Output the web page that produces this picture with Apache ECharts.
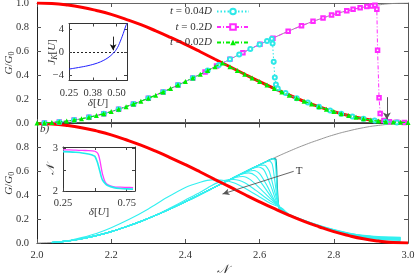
<!DOCTYPE html>
<html><head><meta charset="utf-8">
<script src="https://cdn.jsdelivr.net/npm/echarts@6/dist/echarts.min.js"></script>
<style>html,body{margin:0;padding:0;background:#fff}#c{width:415px;height:276px}</style>
</head><body><div id="c"></div>
<script>
// ---------- data ----------
const xTickLabels = ['2.0','2.2','2.4','2.6','2.8','3.0'];
const nGrid = [2.00,2.04,2.08,2.12,2.16,2.20,2.24,2.28,2.32,2.36,2.40,2.44,2.48,2.52,2.56,2.60,2.64,2.68,2.72,2.76,2.80,2.84,2.88,2.92,2.96,3.00];
const riseG = [0.000,0.004,0.016,0.035,0.062,0.095,0.136,0.181,0.232,0.287,0.345,0.406,0.469,0.531,0.594,0.655,0.713,0.768,0.819,0.864,0.905,0.938,0.965,0.984,0.996,1.000];
const fallG = [1.000,0.996,0.984,0.965,0.938,0.905,0.864,0.819,0.768,0.713,0.655,0.594,0.531,0.469,0.406,0.345,0.287,0.232,0.181,0.136,0.095,0.062,0.035,0.016,0.004,0.000];

// top panel series  (t = 0.2D)
const magPts = [[2.02,0.001],[2.06,0.009],[2.10,0.024],[2.14,0.048],[2.18,0.078],[2.22,0.115],[2.26,0.158],[2.30,0.206],[2.34,0.259],[2.38,0.316],[2.42,0.376],[2.453,0.426],[2.484,0.475],[2.520,0.531],[2.555,0.586],[2.601,0.656],[2.636,0.707],[2.677,0.764],[2.713,0.810],[2.744,0.847],[2.771,0.876],[2.794,0.899],[2.811,0.915],[2.835,0.935],[2.852,0.947],[2.871,0.960],[2.889,0.970],[2.902,0.976],[2.911,0.982],[2.916,0.947],[2.918,0.607],[2.922,0.21],[2.925,0.08],[2.935,0.02],[2.95,0.01],[2.97,0.006],[2.99,0.004]];
// t = 0.04D
const cyaPts = [[2.02,0.001],[2.06,0.009],[2.10,0.024],[2.14,0.048],[2.18,0.078],[2.22,0.115],[2.26,0.158],[2.30,0.206],[2.34,0.259],[2.38,0.316],[2.42,0.376],[2.46,0.437],[2.49,0.484],[2.52,0.531],[2.545,0.57],[2.575,0.616],[2.60,0.655],[2.62,0.684],[2.633,0.703],[2.635,0.663],[2.638,0.51],[2.641,0.38],[2.644,0.32],[2.649,0.287],[2.67,0.25],[2.70,0.206],[2.73,0.17],[2.76,0.136],[2.79,0.105],[2.82,0.078],[2.85,0.055],[2.88,0.035],[2.91,0.02],[2.94,0.01],[2.97,0.005]];
// t = 0.02D
const grnN = [2.00,2.02,2.04,2.06,2.08,2.10,2.12,2.14,2.16,2.18,2.20,2.22,2.24,2.26,2.28,2.30,2.32,2.34,2.36,2.38,2.40,2.42,2.44,2.46,2.48,2.50,2.52,2.54,2.56,2.58,2.60,2.62,2.64,2.66,2.68,2.70,2.72,2.74,2.76,2.78,2.80,2.82,2.84,2.86,2.88,2.90,2.92,2.94,2.96,2.98,3.00];
const grnG = [0,0.001,0.004,0.009,0.016,0.024,0.035,0.048,0.062,0.078,0.095,0.115,0.136,0.158,0.181,0.206,0.232,0.259,0.287,0.316,0.345,0.376,0.406,0.437,0.469,0.500,0.469,0.437,0.406,0.376,0.345,0.316,0.287,0.259,0.232,0.206,0.181,0.158,0.136,0.115,0.095,0.078,0.062,0.048,0.035,0.024,0.016,0.011,0.008,0.006,0.005];

// bottom panel
const bRise = [[2.04,0.004],[2.08,0.016],[2.12,0.035],[2.16,0.062],[2.20,0.095],[2.24,0.136],[2.28,0.181],[2.32,0.232],[2.36,0.287],[2.40,0.345],[2.44,0.406],[2.48,0.469],[2.52,0.531],[2.56,0.594],[2.60,0.655]];
const tailN = [2.68,2.72,2.76,2.80,2.84,2.88,2.92,2.96,2.98];
const tealPeel = [[2.62,0.684],[2.636,0.706],[2.644,0.70],[2.648,0.45],[2.654,0.28]];
const tealTail = [0.232,0.181,0.136,0.095,0.062,0.036,0.018,0.009,0.007];
const cyanRiseLen = [15,15,14,14,13,13,12,8,2];
const cyanPeel = [
  [[2.62,0.684],[2.636,0.706],[2.642,0.69],[2.646,0.5],[2.65,0.33],[2.656,0.272]],
  [[2.615,0.677],[2.626,0.686],[2.634,0.66],[2.641,0.52],[2.648,0.36],[2.656,0.275]],
  [[2.585,0.632],[2.602,0.652],[2.614,0.65],[2.626,0.6],[2.638,0.46],[2.65,0.33],[2.658,0.278]],
  [[2.58,0.623],[2.597,0.636],[2.612,0.61],[2.63,0.48],[2.645,0.35],[2.658,0.28]],
  [[2.55,0.578],[2.57,0.6],[2.585,0.607],[2.60,0.58],[2.62,0.48],[2.64,0.36],[2.66,0.282]],
  [[2.545,0.57],[2.57,0.587],[2.59,0.56],[2.61,0.48],[2.635,0.37],[2.66,0.284]],
  [[2.51,0.515],[2.535,0.548],[2.555,0.557],[2.575,0.53],[2.60,0.46],[2.63,0.37],[2.66,0.286]],
  [[2.36,0.295],[2.40,0.36],[2.44,0.425],[2.47,0.48],[2.50,0.52],[2.53,0.532],[2.56,0.505],[2.59,0.44],[2.625,0.36],[2.66,0.288]],
  [[2.12,0.045],[2.16,0.08],[2.20,0.128],[2.25,0.2],[2.30,0.285],[2.35,0.38],[2.40,0.465],[2.44,0.508],[2.47,0.528],[2.50,0.525],[2.53,0.505],[2.56,0.46],[2.60,0.385],[2.63,0.33],[2.66,0.29]]
];
const cyanTail = [
  [0.234,0.183,0.139,0.100,0.067,0.044,0.030,0.024,0.022],
  [0.234,0.184,0.140,0.101,0.069,0.046,0.033,0.027,0.026],
  [0.235,0.184,0.141,0.103,0.071,0.049,0.036,0.031,0.030],
  [0.235,0.185,0.142,0.104,0.073,0.051,0.039,0.034,0.033],
  [0.236,0.186,0.143,0.105,0.075,0.054,0.042,0.037,0.036],
  [0.236,0.187,0.144,0.107,0.077,0.056,0.045,0.040,0.039],
  [0.237,0.188,0.145,0.108,0.079,0.059,0.048,0.043,0.042],
  [0.237,0.189,0.146,0.110,0.081,0.061,0.051,0.046,0.045],
  [0.238,0.190,0.148,0.112,0.084,0.064,0.054,0.049,0.048]
];

// inset a: J_K vs delta
const jDelta = [0.25,0.30,0.35,0.40,0.43,0.45,0.47,0.49,0.50,0.51,0.52,0.53,0.54,0.55,0.555];
const jVal = [-3.0,-2.72,-2.4,-1.93,-1.5,-1.12,-0.62,0.05,0.5,1.1,1.9,2.75,3.7,4.7,5.0];
// inset b: N vs delta
const nDelta = [0.25,0.30,0.35,0.40,0.45,0.48,0.50,0.52,0.53,0.54,0.55,0.56,0.58,0.60,0.65,0.70,0.75,0.80];
const nMag = [2.97,2.97,2.965,2.96,2.955,2.95,2.94,2.90,2.84,2.72,2.55,2.40,2.22,2.15,2.10,2.09,2.085,2.08];
const nCya = [2.93,2.925,2.915,2.90,2.875,2.85,2.82,2.68,2.57,2.46,2.34,2.26,2.18,2.13,2.08,2.06,2.05,2.045];

// ---------- chart ----------
const SERIF = '"Liberation Serif","DejaVu Serif",serif';
const LBL = {color:'#333', fontFamily:SERIF, fontSize:10.5};
const RICH = {
  i:{fontStyle:'italic', fontFamily:SERIF, fontSize:11, color:'#333'},
  n:{fontFamily:SERIF, fontSize:11, color:'#333'},
  s:{fontFamily:SERIF, fontSize:8, color:'#333', padding:[5,0,0,0]},
  si:{fontFamily:SERIF, fontStyle:'italic', fontSize:8, color:'#333', padding:[5,0,0,0]}
};
const pairs = (xs, ys) => xs.map((x,i)=>[x, ys[i]]);

function mainX(grid, pos, showLabels, lineW, col){
  return {type:'value', gridIndex:grid, position:pos, min:2, max:3, interval:0.2, nameMoveOverlap:false,
    axisLine:{show:true, onZero:false, lineStyle:{color: col || (pos==='bottom' ? '#222' : '#666'), width:lineW||1}},
    axisTick:{show:true, inside:true, length:4, lineStyle:{color:'#555'}},
    axisLabel:{show:showLabels, ...LBL, margin:7, formatter:(v)=>xTickLabels[Math.round((v-2)/0.2)]},
    splitLine:{show:false}};
}
function mainY(grid, pos, showLabels, hideMax){
  return {type:'value', gridIndex:grid, position:pos, min:0, max:1, interval:0.2, nameMoveOverlap:false,
    axisLine:{show:true, onZero:false, lineStyle:{color: pos==='left' ? '#222' : '#555'}},
    axisTick:{show:true, inside:true, length:4, lineStyle:{color:'#555'}},
    axisLabel:{show:showLabels, ...LBL, margin:8, showMaxLabel: !hideMax, formatter:(v)=>v.toFixed(1)},
    splitLine:{show:false}};
}
function insetAxis(kind, grid, pos, min, max, ticks, labels, fmt){
  return {type:'value', gridIndex:grid, position:pos, min:min, max:max, z:5, nameMoveOverlap:false,
    axisLine:{show:true, onZero:false, lineStyle:{color:'#333'}},
    axisTick:{show:true, inside:true, length:3, customValues:ticks, lineStyle:{color:'#444'}},
    axisLabel:{show:!!labels, customValues:labels||[], ...LBL, margin:kind==='x'?7:5, formatter:fmt},
    splitLine:{show:false}};
}

const xAxes = [
  mainX(0,'bottom',false,1.6), mainX(0,'top',false),
  Object.assign(mainX(1,'bottom',true), {name:'𝒩', nameLocation:'middle', nameGap:21, nameTextStyle:{fontFamily:SERIF, fontStyle:'italic', fontSize:12, color:'#333'}}),
  mainX(1,'top',false,1,'#333'),
  Object.assign(insetAxis('x',2,'bottom',0.25,0.555,[0.25,0.375,0.5],[0.25,0.375,0.5],(v)=>v.toFixed(2)),
    {name:'{i|δ}{n|[}{i|U}{n|]}', nameLocation:'middle', nameGap:17, nameTextStyle:{rich:RICH}}),
  insetAxis('x',2,'top',0.25,0.555,[0.25,0.375,0.5]),
  Object.assign(insetAxis('x',3,'bottom',0.25,0.815,[0.25,0.5,0.75],[0.25,0.75],(v)=>v.toFixed(2)),
    {name:'{i|δ}{n|[}{i|U}{n|]}', nameLocation:'middle', nameGap:16, nameTextStyle:{rich:RICH}}),
  insetAxis('x',3,'top',0.25,0.815,[0.25,0.5,0.75])
];
const yName = {name:'{i|G}{n|/}{i|G}{s|0}', nameLocation:'middle', nameGap:21, nameTextStyle:{rich:RICH}};
const yAxes = [
  Object.assign(mainY(0,'left',true,false), yName), mainY(0,'right',false),
  Object.assign(mainY(1,'left',true,true), yName), mainY(1,'right',false),
  Object.assign(insetAxis('y',2,'left',-5,5,[-4,0,4],[-4,0,4],(v)=>v<0?'−'+(-v):String(v)),
    {name:'{i|J}{si|K}{n|[}{i|U}{n|]}', nameLocation:'middle', nameGap:10, nameTextStyle:{rich:RICH}}),
  insetAxis('y',2,'right',-5,5,[-4,0,4]),
  Object.assign(insetAxis('y',3,'left',2,3.04,[2,2.5,3],[2,3],(v)=>String(v)),
    {name:'𝒩', nameLocation:'middle', nameGap:6, nameTextStyle:{fontFamily:SERIF, fontStyle:'italic', fontSize:11, color:'#333'}}),
  insetAxis('y',3,'right',2,3.04,[2,2.5,3])
];

function line(ai, data, color, width, extra){
  return Object.assign({type:'line', xAxisIndex:ai, yAxisIndex:ai, data:data, symbol:'none',
    smooth:0.25, lineStyle:{color:color, width:width}, itemStyle:{color:color},
    silent:true, animation:false, z:2}, extra||{});
}

const series = [];
// top panel (axes 0)
series.push(line(0, pairs(nGrid, riseG), '#8a8a8a', 0.9, {smooth:0.5}));
series.push(line(0, pairs(nGrid, fallG), '#ff0000', 3, {smooth:0.5}));
series.push(line(0, cyaPts, '#2ee8e8', 1, {name:'t = 0.04D', smooth:false, symbol:'emptyCircle', symbolSize:4,
  lineStyle:{color:'#2ee8e8', width:1, type:[1.5,2]}, itemStyle:{color:'#2ee8e8', borderWidth:1}, z:4}));
series.push(line(0, magPts, '#ff2bff', 1, {name:'t = 0.2D', smooth:false, symbol:'emptyRect', symbolSize:3.5,
  lineStyle:{color:'#ff2bff', width:1, type:[4,2,1,2]}, itemStyle:{color:'#ff2bff', borderWidth:1}, z:3}));
series.push(line(0, pairs(grnN, grnG), '#00ee00', 1, {name:'t = 0.02D', smooth:false, symbol:'triangle', symbolSize:5,
  lineStyle:{color:'#00ee00', width:1.2, type:[4,2,1,2]}, itemStyle:{color:'#00ee00'}, z:5,
  markLine:{silent:true, symbol:['none','arrow'], symbolSize:[6,7], label:{show:false},
    lineStyle:{color:'#555', width:1, type:'solid'},
    data:[[{coord:[2.943,0.215]},{coord:[2.943,0.03]}]]}}));
// bottom panel (axes 2)
series.push(line(2, pairs(nGrid, riseG), '#8a8a8a', 0.9, {smooth:0.5}));
series.push(line(2, pairs(nGrid, fallG), '#ff0000', 3, {z:3, smooth:0.5}));
series.push(line(2, bRise.concat(tealPeel, pairs(tailN, tealTail)), '#00a0a0', 1.3));
cyanPeel.forEach((peel, k) => {
  series.push(line(2, bRise.slice(0, cyanRiseLen[k]).concat(peel, pairs(tailN, cyanTail[k])), '#33f0f0', 1.1, {z:2}));
});
series[series.length-1].markLine = {silent:true, symbol:['none','arrow'], symbolSize:[5,7],
  lineStyle:{color:'#555', width:0.9, type:'solid'},
  label:{show:true, position:'start', formatter:'T', fontFamily:SERIF, fontSize:11, color:'#333', distance:2},
  data:[[{coord:[2.692,0.6]},{coord:[2.5,0.41]}]]};
// inset a (axes 4)
series.push(line(4, pairs(jDelta, jVal), '#2020ff', 1, {z:6, smooth:0.4,
  markLine:{silent:true, symbol:['none','none'], label:{show:false}, lineStyle:{color:'#222', width:1, type:[2,2]},
    data:[{yAxis:0}]}}));
series.push(line(4, [], '#000', 1, {z:7,
  markLine:{silent:true, symbol:['none','arrow'], symbolSize:[5,6], label:{show:false}, lineStyle:{color:'#111', width:0.9, type:'solid'},
    data:[[{coord:[0.482,2.7]},{coord:[0.482,0.3]}]]}}));
// inset b (axes 6)
series.push(line(6, pairs(nDelta, nMag), '#ff3cff', 1.3, {z:6}));
series.push(line(6, pairs(nDelta, nCya), '#22ecec', 1.6, {z:7}));

const gb = {outerBoundsMode:'none', containLabel:false};
const option = {
  backgroundColor:'#fff',
  animation:false,
  grid:[
    Object.assign({left:37, right:7, top:3, height:120}, gb),
    Object.assign({left:37, right:7, top:123.5, height:119.5}, gb),
    Object.assign({left:69, top:23.5, width:58, height:57, show:true, backgroundColor:'#fff', borderWidth:0, z:3}, gb),
    Object.assign({left:63, top:147, width:72, height:44, show:true, backgroundColor:'#fff', borderWidth:0, z:3}, gb)
  ],
  xAxis:xAxes, yAxis:yAxes,
  legend:{orient:'vertical', right:160, top:1, itemWidth:32, itemHeight:7, itemGap:4.5, align:'right',
    data:['t = 0.04D','t = 0.2D','t = 0.02D'],
    formatter:(n)=>'{i|t}{n| = '+n.slice(4,-1)+'}{i|D}',
    textStyle:{rich:RICH}},
  graphic:[{type:'text', left:40, top:124, style:{text:'b)', font:'italic 11px '+SERIF, fill:'#333'}}],
  series:series
};
echarts.init(document.getElementById('c'), null, {renderer:'canvas'}).setOption(option);
</script></body></html>
